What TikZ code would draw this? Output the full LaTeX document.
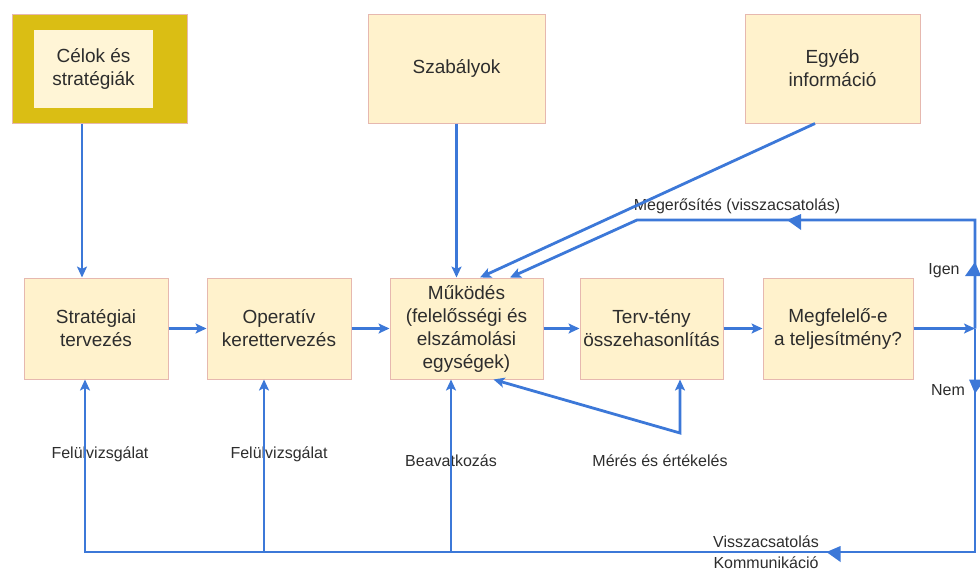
\documentclass[tikz,border=0pt]{standalone}
\usepackage{fontspec}
\setmainfont{Liberation Sans}
\usetikzlibrary{arrows.meta,decorations.markings}

\definecolor{flowblue}{RGB}{60,120,216}
\definecolor{boxfill}{RGB}{255,242,204}
\definecolor{boxedge}{RGB}{230,184,175}
\definecolor{goldfill}{RGB}{218,190,20}
\definecolor{innerfill}{RGB}{255,245,214}
\definecolor{ink}{RGB}{45,45,45}

\tikzset{
  box/.style={draw=boxedge, line width=1pt, fill=boxfill, align=center,
    text=ink, font=\fontsize{19}{23}\selectfont, inner sep=0pt,
    minimum width=#1},
  box/.default=144pt,
  tall/.style={minimum height=109pt},
  row/.style={minimum height=101pt},
  lbl/.style={text=ink, font=\fontsize{16}{19}\selectfont, inner sep=0pt, anchor=base},
  flow/.style={draw=flowblue, line width=2.8pt},
  tip/.style={-{Stealth[length=11pt,width=10pt,inset=2.5pt]}},
  twotips/.style={{Stealth[length=11pt,width=10pt,inset=2.5pt]}-{Stealth[length=11pt,width=10pt,inset=2.5pt]}},
  flowmark/.style={fill=flowblue},
  midtips/.style 2 args={postaction={decorate, decoration={markings,
    mark=at position #1 with {\fill[flowmark] (0pt,0pt) -- (-14pt,-6pt) -- (-14pt,10pt) -- cycle;},
    mark=at position #2 with {\fill[flowmark] (0pt,0pt) -- (-14pt,-6pt) -- (-14pt,10pt) -- cycle;}}}}
}

\begin{document}
\begin{tikzpicture}[x=1pt,y=-1pt]
  \useasboundingbox (0,0) rectangle (980,571);
  \clip (0,0) rectangle (980,571);

  % goals, rules and other information
  \node[box=175pt, tall, fill=goldfill] (celok) at (99.5,68.5) {};
  \node[box=119pt, draw=none, fill=innerfill, minimum height=78pt] (celin) at (93.5,68.5) {Célok és\\stratégiák};
  \node[box=177pt, tall] (szab) at (456.5,68.5) {Szabályok};
  \node[box=175pt, tall] (egyeb) at (832.5,68.5) {Egyéb\\információ};

  % main process row
  \node[box=144pt, row] (strat) at (96,328.5) {Stratégiai\\tervezés};
  \node[box=144pt, row] (op) at (279,328.5) {Operatív\\kerettervezés};
  \node[box=153pt, row] (muk) at (466.5,328.5) {Működés\\(felelősségi és\\elszámolási\\egységek)};
  \node[box=143pt, row] (terv) at (651.5,328.5) {Terv-tény\\összehasonlítás};
  \node[box=150pt, row] (meg) at (838,328.5) {Megfelelő-e\\a teljesítmény?};

  % labels
  \node[lbl] (lmeg) at (737,210) {Megerősítés (visszacsatolás)};
  \node[lbl] (ligen) at (944,274) {Igen};
  \node[lbl] (lnem) at (948,395) {Nem};
  \node[lbl] (lfel1) at (100,458.5) {Felülvizsgálat};
  \node[lbl] (lfel2) at (279,458.5) {Felülvizsgálat};
  \node[lbl] (lbea) at (451,466) {Beavatkozás};
  \node[lbl] (lmer) at (660,466) {Mérés és értékelés};
  \node[lbl] (lvis) at (766,547) {Visszacsatolás};
  \node[lbl] (lkom) at (766,568.5) {Kommunikáció};

  % turning points of the feedback loops
  \coordinate (RT) at (975,220);
  \coordinate (RB) at (975,552);
  \coordinate (R) at (meg.east -| RT);
  \coordinate (TL) at (637,220);
  \coordinate (ME) at (680,433);

  % connectors from the top boxes
  \draw[flow,tip] ([xshift=-14pt]strat.north |- celok.south) -- ([xshift=-14pt]strat.north);
  \draw[flow,tip] (szab.south) -- (szab.south |- muk.north);
  \draw[flow,tip] ([xshift=-17.5pt]egyeb.south) -- ([xshift=13.5pt]muk.north);

  % main flow
  \draw[flow,tip] (strat.east) -- (op.west);
  \draw[flow,tip] (op.east) -- (muk.west);
  \draw[flow,tip] (muk.east) -- (terv.west);
  \draw[flow,tip] (terv.east) -- (meg.west);
  \draw[flow,tip] (meg.east) -- (R);

  % yes: confirmation loop
  \draw[flow,tip,midtips={66.5pt}{296.5pt}] (R) -- (RT) -- (TL) -- ([xshift=43.5pt]muk.north);

  % no: feedback and communication loop
  \draw[flow,tip,midtips={65pt}{372pt}] (R) -- (RB) -- ([xshift=-11pt]strat.south |- RB) -- ([xshift=-11pt]strat.south);
  \draw[flow,tip] ([xshift=-15pt]op.south |- RB) -- ([xshift=-15pt]op.south);
  \draw[flow,tip] ([xshift=-15.5pt]muk.south |- RB) -- ([xshift=-15.5pt]muk.south);

  % measurement and evaluation
  \draw[flow,twotips] ([xshift=27pt]muk.south) -- (ME) -- (ME |- terv.south);
\end{tikzpicture}
\end{document}
